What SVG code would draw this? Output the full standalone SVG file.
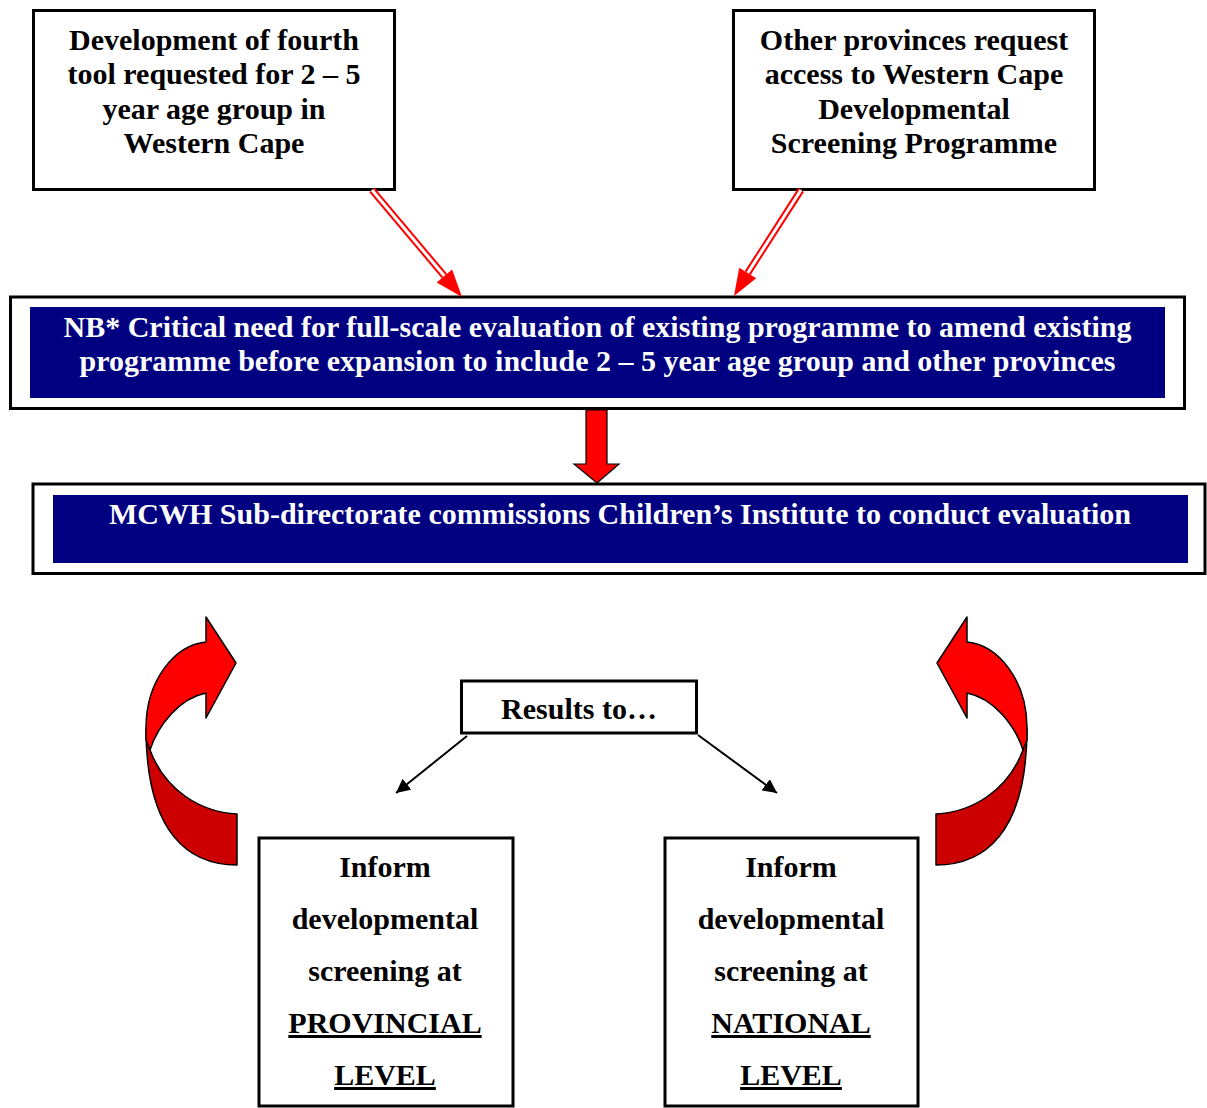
<svg xmlns="http://www.w3.org/2000/svg" width="1207" height="1108" viewBox="0 0 1207 1108">
  <style>
    .box { fill: #ffffff; stroke: #000000; stroke-width: 3; }
    .navy { fill: #000080; }
    .t { font-family: "Liberation Serif", "Times New Roman", serif; font-weight: bold; font-size: 30px; text-anchor: middle; fill: #000000; }
    .w { fill: #ffffff; }
    .u { text-decoration: underline; }
    .dbl-outer { stroke: #ff0000; stroke-width: 7; fill: none; }
    .dbl-inner { stroke: #ffffff; stroke-width: 3; fill: none; }
    .redhead { fill: #ff0000; }
    .thin { stroke: #000000; stroke-width: 2; fill: none; }
    .bright { fill: #ff0000; stroke: #000000; stroke-width: 1.5; stroke-linejoin: round; }
    .dark { fill: #cc0000; stroke: #000000; stroke-width: 1.5; stroke-linejoin: round; }
  </style>
  <defs>
    <marker id="blk" viewBox="0 0 10 10" refX="10" refY="5" markerWidth="7" markerHeight="7" markerUnits="strokeWidth" orient="auto">
      <path d="M0,0 L10,5 L0,10 Z" fill="#000000"/>
    </marker>
    <g id="curved">
      <path class="dark" d="M146,728 C146,835 190,865 237,865 L237,814 C200,812 165,790 150,750 Z"/>
      <path class="bright" d="M146,728 C146,680 175,645 206,642 L206,617 L236,663 L206,718 L206,693 C180,698 158,725 150,750 L146,740 Z"/>
    </g>
  </defs>

  <g id="node-fourth-tool">
    <rect class="box" x="33.5" y="10.5" width="361" height="179"/>
    <text class="t" x="214" y="49.5">Development of fourth</text>
    <text class="t" x="214" y="84">tool requested for 2 – 5</text>
    <text class="t" x="214" y="118.5">year age group in</text>
    <text class="t" x="214" y="153">Western Cape</text>
  </g>

  <g id="node-other-provinces">
    <rect class="box" x="733.5" y="10.5" width="361" height="179"/>
    <text class="t" x="914" y="49.5">Other provinces request</text>
    <text class="t" x="914" y="84">access to Western Cape</text>
    <text class="t" x="914" y="118.5">Developmental</text>
    <text class="t" x="914" y="153">Screening Programme</text>
  </g>

  <g id="node-critical-need">
    <rect class="box" x="10.5" y="297" width="1174" height="111.5" stroke-width="3.5"/>
    <rect class="navy" x="30" y="307" width="1135" height="91"/>
    <text class="t w" x="597.5" y="336.5">NB* Critical need for full-scale evaluation of existing programme to amend existing</text>
    <text class="t w" x="597.5" y="370.5">programme before expansion to include 2 – 5 year age group and other provinces</text>
  </g>

  <g id="node-mcwh">
    <rect class="box" x="33" y="484" width="1172" height="89.5"/>
    <rect class="navy" x="53" y="495" width="1135" height="68"/>
    <text class="t w" x="620" y="523.5">MCWH Sub-directorate commissions Children’s Institute to conduct evaluation</text>
  </g>

  <g id="node-results">
    <rect class="box" x="461.5" y="681" width="235" height="52"/>
    <text class="t" x="579" y="719">Results to…</text>
  </g>

  <g id="node-provincial">
    <rect class="box" x="259" y="838" width="254" height="268"/>
    <text class="t" x="385" y="877">Inform</text>
    <text class="t" x="385" y="929">developmental</text>
    <text class="t" x="385" y="981">screening at</text>
    <text class="t u" x="385" y="1033">PROVINCIAL</text>
    <text class="t u" x="385" y="1085">LEVEL</text>
  </g>

  <g id="node-national">
    <rect class="box" x="665" y="838" width="253" height="268"/>
    <text class="t" x="791" y="877">Inform</text>
    <text class="t" x="791" y="929">developmental</text>
    <text class="t" x="791" y="981">screening at</text>
    <text class="t u" x="791" y="1033">NATIONAL</text>
    <text class="t u" x="791" y="1085">LEVEL</text>
  </g>

  <g id="connectors">
    <line class="dbl-outer" x1="372" y1="190" x2="444.4" y2="276"/>
    <line class="dbl-inner" x1="372" y1="190" x2="444.4" y2="276"/>
    <polygon class="redhead" points="462,297 452.1,269.6 436.7,282.4"/>
    <line class="dbl-outer" x1="801" y1="190" x2="747.7" y2="273"/>
    <line class="dbl-inner" x1="801" y1="190" x2="747.7" y2="273"/>
    <polygon class="redhead" points="734,296 756.2,278.3 739.2,267.7"/>
    <polygon points="586,410 607,410 607,464 619,464 597,483 574,464 586,464" fill="#ff0000" stroke="#000000" stroke-width="1.2"/>
    <line class="thin" x1="467" y1="736" x2="396" y2="793" marker-end="url(#blk)"/>
    <line class="thin" x1="698" y1="735" x2="777" y2="793" marker-end="url(#blk)"/>
    <use href="#curved"/>
    <use href="#curved" transform="translate(1173,0) scale(-1,1)"/>
  </g>
</svg>
